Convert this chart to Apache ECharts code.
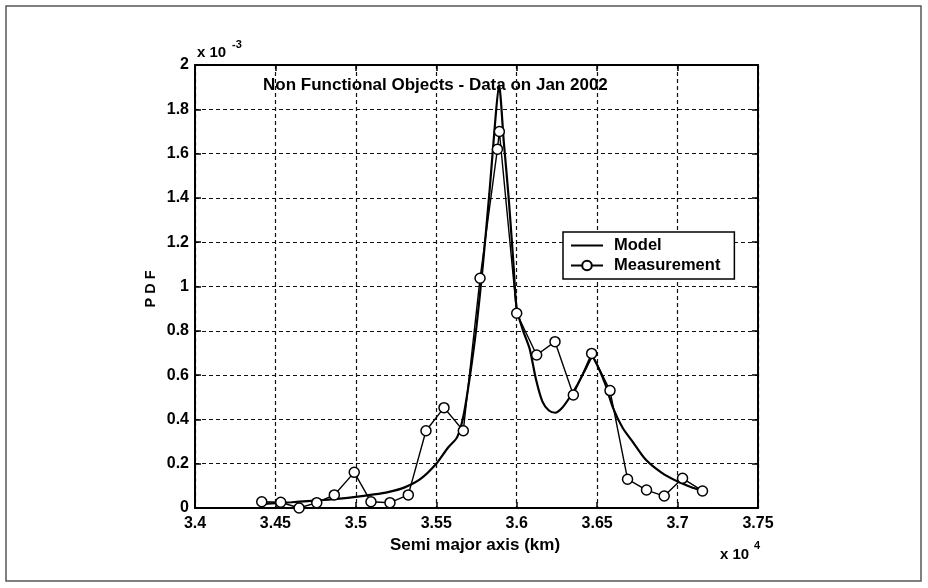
<!DOCTYPE html>
<html>
<head>
<meta charset="utf-8">
<script src="https://cdn.jsdelivr.net/npm/echarts@6/dist/echarts.min.js"></script>
<style>
  html, body { margin: 0; padding: 0; background: #fff; }
  #chart { width: 928px; height: 588px; }
</style>
</head>
<body>
<div id="chart"></div>
<script>
// Semi major axis in units of 10^4 km, PDF in units of 10^-3
const modelX = [3.440, 3.450, 3.460, 3.470, 3.480, 3.490, 3.500, 3.510, 3.520, 3.530,
                3.540, 3.550, 3.557, 3.563, 3.567, 3.571, 3.575, 3.579, 3.583, 3.586,
                3.589, 3.592, 3.595, 3.598, 3.600, 3.604, 3.608, 3.612, 3.616, 3.620,
                3.624, 3.628, 3.633, 3.638, 3.643, 3.647, 3.651, 3.655, 3.660, 3.666,
                3.672, 3.680, 3.690, 3.700, 3.710, 3.716];
const modelY = [0.018, 0.022, 0.026, 0.031, 0.036, 0.042, 0.050, 0.060, 0.072, 0.092,
                0.130, 0.200, 0.270, 0.320, 0.420, 0.600, 0.820, 1.100, 1.420, 1.690,
                1.910, 1.650, 1.400, 1.100, 0.900, 0.800, 0.720, 0.580, 0.480, 0.440,
                0.430, 0.450, 0.500, 0.560, 0.630, 0.680, 0.630, 0.560, 0.450, 0.360,
                0.300, 0.220, 0.160, 0.120, 0.090, 0.074];

const measX = [3.4415, 3.4533, 3.4647, 3.4757, 3.4866, 3.4990, 3.5094, 3.5212, 3.5326,
               3.5436, 3.5548, 3.5668, 3.5772, 3.5880, 3.5892, 3.6000, 3.6124, 3.6238,
               3.6352, 3.6466, 3.6580, 3.6689, 3.6807, 3.6917, 3.7031, 3.7155];
const measY = [0.028, 0.026, 0.000, 0.024, 0.059, 0.161, 0.028, 0.024, 0.059,
               0.349, 0.453, 0.349, 1.037, 1.620, 1.700, 0.879, 0.691, 0.751,
               0.510, 0.698, 0.530, 0.130, 0.081, 0.054, 0.134, 0.077];

const xTicks = { min: 3.4, max: 3.75, step: 0.05 };
const yTicks = { min: 0, max: 2, step: 0.2 };

const titleText = 'Non Functional Objects - Data on Jan 2002';
const xName = 'Semi major axis (km)';
const yName = 'P D F';
const seriesNames = ['Model', 'Measurement'];

const FONT = '"Liberation Sans", Arial, sans-serif';

const zip = (xs, ys) => xs.map((x, i) => [x, ys[i]]);

const chart = echarts.init(document.getElementById('chart'), null, { renderer: 'canvas' });

const gridLine = { show: true, lineStyle: { color: '#111', width: 1.2, type: [4, 3] } };
const boxLine = { show: true, onZero: false, lineStyle: { color: '#000', width: 2 } };
const tickIn = { show: true, inside: true, length: 6, lineStyle: { color: '#000', width: 1.5 } };
const labelFont = { color: '#000', fontFamily: FONT, fontWeight: 'bold', fontSize: 16 };

chart.setOption({
  animation: false,
  backgroundColor: '#fff',
  grid: { left: 195, right: 170, top: 65, bottom: 80, containLabel: false },
  xAxis: [
    {
      type: 'value', min: xTicks.min, max: xTicks.max, interval: xTicks.step,
      position: 'bottom',
      axisLine: boxLine, axisTick: tickIn, splitLine: gridLine,
      axisLabel: Object.assign({ margin: 8, showMinLabel: true, showMaxLabel: true,
        formatter: v => String(Math.round(v * 100) / 100) }, labelFont)
    },
    {
      type: 'value', min: xTicks.min, max: xTicks.max, interval: xTicks.step,
      position: 'top',
      axisLine: boxLine, axisTick: tickIn, splitLine: { show: false },
      axisLabel: { show: false }
    }
  ],
  yAxis: [
    {
      type: 'value', min: yTicks.min, max: yTicks.max, interval: yTicks.step,
      position: 'left',
      axisLine: boxLine, axisTick: tickIn, splitLine: gridLine,
      axisLabel: Object.assign({ margin: 6, showMinLabel: true, showMaxLabel: true,
        formatter: v => String(Math.round(v * 10) / 10) }, labelFont)
    },
    {
      type: 'value', min: yTicks.min, max: yTicks.max, interval: yTicks.step,
      position: 'right',
      axisLine: boxLine, axisTick: tickIn, splitLine: { show: false },
      axisLabel: { show: false }
    }
  ],
  legend: {
    orient: 'vertical',
    left: 563, top: 232,
    padding: [5, 14, 5, 7],
    itemGap: 3,
    itemWidth: 32, itemHeight: 12,
    backgroundColor: '#fff',
    borderColor: '#000', borderWidth: 1.5, borderRadius: 0,
    textStyle: { color: '#000', fontFamily: FONT, fontWeight: 'bold', fontSize: 16.5, padding: [0, 0, 0, 6] },
    data: [
      { name: seriesNames[0], itemStyle: { opacity: 0 } },
      { name: seriesNames[1] }
    ]
  },
  series: [
    {
      name: seriesNames[0], type: 'line',
      data: zip(modelX, modelY),
      symbol: 'none', smooth: 0.25,
      lineStyle: { color: '#000', width: 2.2 },
      itemStyle: { color: '#000' },
      z: 3
    },
    {
      name: seriesNames[1], type: 'line',
      data: zip(measX, measY),
      symbol: 'circle', symbolSize: 10, showSymbol: true, clip: false,
      lineStyle: { color: '#000', width: 1.4 },
      itemStyle: { color: '#fff', borderColor: '#000', borderWidth: 1.5 },
      z: 4
    }
  ],
  graphic: [
    { type: 'rect', silent: true, z: -1,
      shape: { x: 6, y: 6, width: 915, height: 575 },
      style: { fill: 'none', stroke: '#555', lineWidth: 1.5 } },
    { type: 'text', x: 263, y: 85, silent: true,
      style: { text: titleText, fill: '#000', font: 'bold 17px ' + FONT, align: 'left', verticalAlign: 'middle' } },
    { type: 'text', x: 197, y: 53, silent: true,
      style: { text: 'x 10', fill: '#000', font: 'bold 15px ' + FONT, align: 'left', verticalAlign: 'middle' } },
    { type: 'text', x: 232, y: 45, silent: true,
      style: { text: '-3', fill: '#000', font: 'bold 11px ' + FONT, align: 'left', verticalAlign: 'middle' } },
    { type: 'text', x: 720, y: 555, silent: true,
      style: { text: 'x 10', fill: '#000', font: 'bold 15px ' + FONT, align: 'left', verticalAlign: 'middle' } },
    { type: 'text', x: 754, y: 546, silent: true,
      style: { text: '4', fill: '#000', font: 'bold 11px ' + FONT, align: 'left', verticalAlign: 'middle' } },
    { type: 'text', x: 475, y: 545, silent: true,
      style: { text: xName, fill: '#000', font: 'bold 17px ' + FONT, align: 'center', verticalAlign: 'middle' } },
    { type: 'text', x: 151, y: 289, rotation: Math.PI / 2, silent: true,
      style: { text: yName, fill: '#000', font: 'bold 14.5px ' + FONT, align: 'center', verticalAlign: 'middle' } }
  ]
});
</script>
</body>
</html>
